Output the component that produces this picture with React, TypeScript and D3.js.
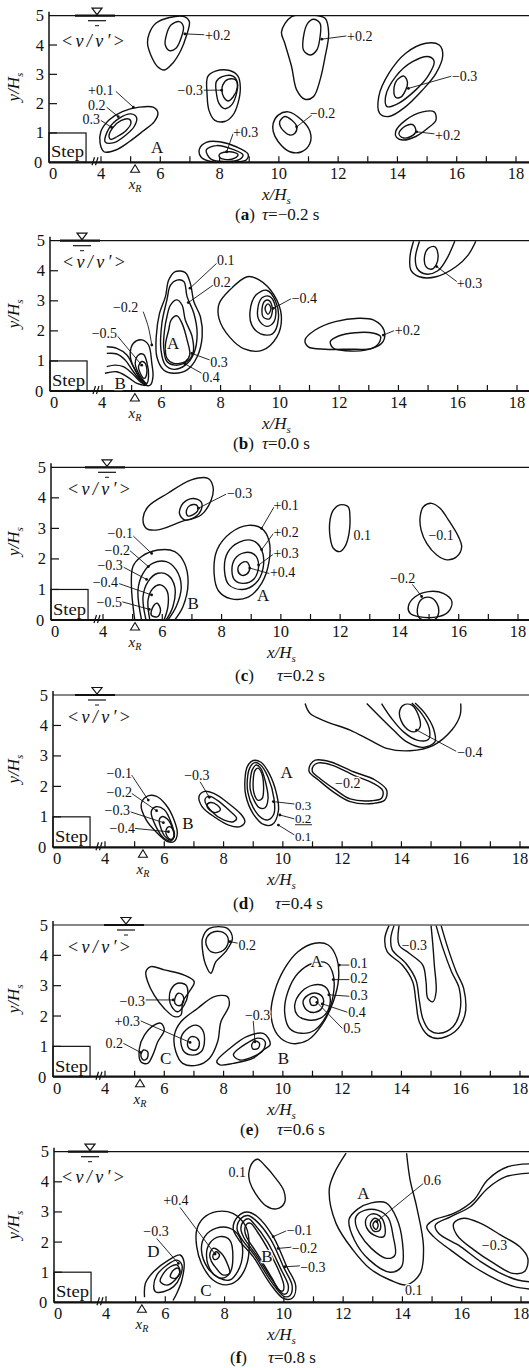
import React from 'react';
import * as d3 from 'd3';

type Pt = [number, number];
type Contour = { p: Pt[]; open?: boolean };
type Lab = { t: string; x: number; y: number; a?: 'start' | 'middle' | 'end'; big?: boolean; lead?: Pt[]; under?: boolean; small?: boolean };

// ---------- panel (a) tau = -0.2 s ----------
const contoursA: Contour[] = [
  { p: [[3.93,0.65],[3.99,1.05],[4.27,1.44],[4.72,1.73],[5.29,1.88],[5.76,1.88],[5.92,1.69],[5.80,1.39],[5.40,1.05],[4.95,0.70],[4.50,0.42],[4.10,0.36]] },
  { p: [[4.14,0.70],[4.27,1.16],[4.61,1.50],[5.01,1.65],[5.20,1.53],[5.12,1.22],[4.84,0.93],[4.44,0.67]] },
  { p: [[4.27,0.88],[4.38,1.16],[4.67,1.42],[4.95,1.47],[5.01,1.33],[4.84,1.08],[4.55,0.88],[4.33,0.78]] },
  { p: [[5.63,4.40],[5.85,4.74],[6.31,4.94],[6.81,4.97],[6.98,4.80],[6.87,4.28],[6.70,3.83],[6.42,3.38],[6.14,3.15],[5.91,3.26],[5.68,3.66],[5.57,4.06]] },
  { p: [[6.19,4.28],[6.36,4.68],[6.64,4.80],[6.78,4.63],[6.70,4.23],[6.53,3.89],[6.31,3.81],[6.17,4.0]] },
  { p: [[7.60,2.92],[7.86,3.11],[8.34,3.13],[8.62,2.94],[8.70,2.56],[8.62,2.01],[8.45,1.61],[8.17,1.39],[7.83,1.44],[7.64,1.78],[7.58,2.30]] },
  { p: [[7.89,2.75],[8.09,2.92],[8.45,2.94],[8.60,2.72],[8.56,2.30],[8.40,1.95],[8.17,1.83],[7.98,2.01],[7.89,2.38]] },
  { p: [[8.11,2.64],[8.28,2.83],[8.54,2.81],[8.60,2.56],[8.45,2.22],[8.28,2.09],[8.14,2.22],[8.08,2.44]] },
  { p: [[7.32,0.45],[7.55,0.68],[8.0,0.70],[8.56,0.53],[8.96,0.28],[8.90,0.08],[8.45,0.01],[7.77,0.01],[7.38,0.17]] },
  { p: [[7.55,0.42],[7.89,0.57],[8.45,0.44],[8.79,0.25],[8.68,0.10],[8.23,0.03],[7.72,0.10]] },
  { p: [[8.0,0.28],[8.34,0.36],[8.62,0.27],[8.51,0.14],[8.17,0.10],[8.0,0.17]] },
  { p: [[10.09,4.45],[10.43,4.97],[11.11,5.03],[11.56,4.91],[11.68,4.40],[11.56,3.60],[11.39,2.81],[11.17,2.24],[10.88,2.15],[10.60,2.47],[10.43,3.26],[10.20,4.06]] },
  { p: [[10.83,4.28],[10.97,4.74],[11.17,4.88],[11.39,4.74],[11.39,4.28],[11.28,3.83],[11.05,3.66],[10.83,3.83]] },
  { p: [[9.81,1.33],[9.98,1.61],[10.32,1.72],[10.77,1.44],[11.05,1.05],[11.05,0.65],[10.77,0.36],[10.37,0.36],[9.98,0.70],[9.81,1.05]] },
  { p: [[10.03,1.39],[10.20,1.56],[10.43,1.44],[10.60,1.22],[10.54,0.99],[10.37,0.93],[10.18,1.05],[10.05,1.22]] },
  { p: [[13.37,2.24],[13.71,3.03],[14.28,3.72],[14.96,4.06],[15.41,4.0],[15.53,3.66],[15.30,3.03],[14.85,2.47],[14.28,1.90],[13.71,1.56],[13.40,1.67]] },
  { p: [[13.60,2.24],[13.94,2.92],[14.51,3.43],[15.07,3.60],[15.24,3.43],[15.02,2.92],[14.62,2.47],[14.05,2.02],[13.65,1.90]] },
  { p: [[13.88,2.47],[13.99,2.81],[14.22,2.94],[14.34,2.72],[14.28,2.47],[14.11,2.22],[13.94,2.22]] },
  { p: [[13.94,1.05],[14.28,1.44],[14.85,1.72],[15.24,1.72],[15.30,1.44],[15.02,1.16],[14.62,0.88],[14.17,0.76],[13.97,0.85]] },
  { p: [[14.05,0.99],[14.28,1.24],[14.53,1.28],[14.62,1.05],[14.45,0.88],[14.17,0.84]] },
];
const labelsA: Lab[] = [
  { t: '+0.1', x: 4.42, y: 2.30, a: 'end', lead: [[5.09,1.88],[4.5,2.42]] },
  { t: '0.2', x: 4.15, y: 1.78, a: 'end', lead: [[4.58,1.56],[4.19,1.88]] },
  { t: '0.3', x: 3.92, y: 1.31, a: 'end', lead: [[4.36,1.19],[3.95,1.44]] },
  { t: 'A', x: 5.89, y: 0.32, a: 'middle', big: true },
  { t: '+0.2', x: 7.51, y: 4.17, lead: [[6.83,4.38],[7.49,4.35]] },
  { t: '−0.3', x: 7.44, y: 2.30, a: 'end', lead: [[8.07,2.46],[7.46,2.46]] },
  { t: '+0.3', x: 8.45, y: 0.86, lead: [[8.24,0.36],[8.46,0.99]] },
  { t: '+0.2', x: 12.30, y: 4.14, lead: [[11.45,4.2],[12.29,4.31]] },
  { t: '−0.2', x: 11.05, y: 1.51, lead: [[10.60,1.21],[11.11,1.61]] },
  { t: '−0.3', x: 15.84, y: 2.77, lead: [[14.37,2.52],[15.83,2.94]] },
  { t: '+0.2', x: 15.27, y: 0.76, lead: [[14.65,1.04],[15.25,0.97]] },
];

// ---------- panel (b) tau = 0.0 s ----------
const contoursB: Contour[] = [
  { p: [[4.95,1.25],[5.06,1.59],[5.34,1.70],[5.57,1.53],[5.68,0.92],[5.72,0.48],[5.63,0.20],[5.46,0.20],[5.18,0.59],[5.01,0.92]] },
  { p: [[5.12,0.92],[5.23,1.20],[5.40,1.22],[5.51,0.97],[5.57,0.48],[5.51,0.25],[5.34,0.42],[5.18,0.70]] },
  { p: [[5.23,0.81],[5.34,0.98],[5.46,0.92],[5.51,0.59],[5.42,0.42],[5.29,0.59]] },
  { p: [[4.16,1.47],[4.50,1.42],[4.84,1.20],[5.06,0.81],[5.29,0.42],[5.51,0.23]], open: true },
  { p: [[4.16,1.25],[4.50,1.23],[4.78,1.03],[5.06,0.64],[5.34,0.31],[5.51,0.20]], open: true },
  { p: [[4.16,0.81],[4.44,0.86],[4.72,0.81],[5.01,0.59],[5.29,0.31],[5.49,0.19]], open: true },
  { p: [[4.10,0.59],[4.50,0.64],[4.84,0.48],[5.18,0.25],[5.46,0.18]], open: true },
  { p: [[6.14,3.14],[6.25,3.69],[6.47,3.97],[6.81,3.94],[6.98,3.58],[7.10,2.97],[7.32,2.47],[7.38,1.81],[7.21,1.14],[6.87,0.70],[6.42,0.59],[6.08,0.70],[5.85,1.14],[5.83,1.81],[5.94,2.58]] },
  { p: [[6.19,3.03],[6.31,3.52],[6.53,3.69],[6.76,3.64],[6.87,3.14],[7.10,2.58],[7.21,1.92],[7.10,1.25],[6.81,0.86],[6.42,0.72],[6.14,0.86],[5.99,1.36],[6.02,2.25]] },
  { p: [[6.19,2.47],[6.31,2.86],[6.53,3.03],[6.70,2.86],[6.81,2.36],[7.04,1.81],[7.07,1.25],[6.87,0.98],[6.47,0.86],[6.19,0.98],[6.08,1.47],[6.11,2.03]] },
  { p: [[6.25,2.03],[6.33,2.36],[6.53,2.50],[6.70,2.25],[6.87,1.70],[6.96,1.20],[6.81,0.98],[6.42,0.92],[6.19,1.09],[6.14,1.53]] },
  { p: [[7.95,2.9],[8.3,3.35],[8.9,3.8],[9.3,3.7],[9.8,3.2],[10.05,2.5],[9.9,1.8],[9.4,1.35],[8.8,1.4],[8.3,1.8],[7.95,2.4]] },
  { p: [[9.0,2.7],[9.2,3.2],[9.55,3.35],[9.85,3.0],[9.95,2.4],[9.75,1.9],[9.35,1.9],[9.05,2.2]] },
  { p: [[9.25,2.7],[9.4,3.1],[9.65,3.15],[9.85,2.8],[9.8,2.3],[9.55,2.15],[9.3,2.35]] },
  { p: [[9.4,2.75],[9.5,3.0],[9.65,3.0],[9.75,2.7],[9.65,2.4],[9.45,2.45]] },
  { p: [[9.5,2.75],[9.6,2.9],[9.7,2.75],[9.6,2.55]] },
  { p: [[10.85,1.70],[11.19,2.03],[11.87,2.31],[12.66,2.42],[13.17,2.36],[13.51,2.03],[13.48,1.64],[13.12,1.42],[12.32,1.39],[11.53,1.39],[10.96,1.47]] },
  { p: [[11.70,1.64],[11.98,1.83],[12.55,1.94],[13.17,1.92],[13.40,1.81],[13.29,1.53],[12.89,1.36],[12.21,1.34],[11.81,1.42]] },
  { p: [[14.51,4.98],[14.39,4.47],[14.42,4.02],[14.71,3.80],[15.27,3.80],[15.95,4.14],[16.35,4.52],[16.61,4.98]], open: true },
  { p: [[14.71,4.98],[14.57,4.41],[14.65,4.05],[14.93,3.89],[15.33,4.0],[15.61,4.36],[15.90,4.98]], open: true },
  { p: [[14.88,4.47],[15.0,4.74],[15.22,4.80],[15.33,4.58],[15.27,4.19],[15.10,4.05],[14.93,4.14]] },
];
const labelsB: Lab[] = [
  { t: '0.1', x: 7.88, y: 4.19, lead: [[6.97,3.42],[7.87,4.25]] },
  { t: '0.2', x: 7.75, y: 3.46, lead: [[6.91,2.94],[7.76,3.53]] },
  { t: '0.3', x: 7.65, y: 0.80, lead: [[7.03,1.25],[7.64,1.03]] },
  { t: '0.4', x: 7.38, y: 0.30, lead: [[6.80,0.90],[7.36,0.59]] },
  { t: 'A', x: 6.40, y: 1.40, a: 'middle', big: true },
  { t: '−0.2', x: 4.37, y: 2.63, lead: [[5.68,1.53],[5.56,2.14],[5.39,2.64]] },
  { t: '−0.5', x: 4.51, y: 1.76, a: 'end', lead: [[5.34,0.86],[4.52,1.83]] },
  { t: 'B', x: 4.61, y: 0.07, a: 'middle', big: true },
  { t: '−0.4', x: 10.40, y: 2.93, lead: [[9.78,2.75],[10.40,3.08]] },
  { t: '+0.2', x: 13.88, y: 1.86, lead: [[13.49,1.86],[13.86,2.01]] },
  { t: '+0.3', x: 15.97, y: 3.43, lead: [[15.29,4.14],[15.97,3.64]] },
];

// ---------- panel (c) tau = 0.2 s ----------
const contoursC: Contour[] = [
  { p: [[5.35,3.33],[5.52,3.71],[6.19,4.15],[6.98,4.59],[7.54,4.64],[7.71,4.37],[7.65,3.93],[7.31,3.44],[6.64,3.22],[5.85,2.95],[5.46,3.0]] },
  { p: [[6.58,3.49],[6.70,3.82],[7.03,3.98],[7.31,3.87],[7.31,3.60],[7.09,3.36],[6.75,3.28]] },
  { p: [[6.81,3.55],[6.92,3.74],[7.15,3.77],[7.20,3.60],[7.03,3.44],[6.86,3.41]] },
  { p: [[5.07,0],[4.96,1.09],[5.01,1.75],[5.29,2.07],[5.85,2.29],[6.42,2.24],[6.75,1.86],[6.87,1.20],[6.70,0.44],[6.42,0]], open: true },
  { p: [[5.30,0],[5.18,0.98],[5.35,1.53],[5.69,1.86],[6.13,1.91],[6.47,1.64],[6.64,1.09],[6.47,0.44],[6.19,0]], open: true },
  { p: [[5.45,0],[5.35,0.76],[5.52,1.26],[5.85,1.53],[6.19,1.47],[6.42,1.09],[6.36,0.44],[6.13,0]], open: true },
  { p: [[5.58,0],[5.52,0.66],[5.69,1.04],[5.94,1.15],[6.17,0.93],[6.19,0.44],[6.06,0]], open: true },
  { p: [[5.63,0.16],[5.69,0.44],[5.83,0.55],[5.94,0.33],[5.85,0.11]] },
  { p: [[7.75,1.5],[7.85,2.3],[8.3,2.85],[8.9,3.1],[9.35,3.0],[9.6,2.6],[9.6,1.9],[9.35,1.2],[8.9,0.75],[8.3,0.7],[7.9,0.95]] },
  { p: [[8.1,1.6],[8.2,2.2],[8.6,2.55],[9.05,2.6],[9.35,2.3],[9.4,1.7],[9.15,1.2],[8.7,1.0],[8.25,1.15]] },
  { p: [[8.35,1.6],[8.45,2.0],[8.75,2.2],[9.1,2.15],[9.25,1.8],[9.1,1.35],[8.75,1.2],[8.45,1.3]] },
  { p: [[8.55,1.65],[8.65,1.85],[8.85,1.9],[8.95,1.7],[8.85,1.5],[8.65,1.48]] },
  { p: [[11.66,3.28],[11.77,3.60],[11.99,3.77],[12.27,3.71],[12.33,3.38],[12.30,2.84],[12.16,2.40],[11.99,2.24],[11.77,2.35],[11.66,2.73]] },
  { p: [[14.70,3.38],[14.81,3.71],[15.09,3.82],[15.37,3.66],[15.65,3.28],[15.99,2.73],[16.10,2.40],[15.93,2.07],[15.60,1.97],[15.26,2.13],[14.92,2.51],[14.73,2.95]] },
  { p: [[14.30,0.44],[14.53,0.76],[14.98,0.93],[15.48,0.87],[15.77,0.60],[15.65,0.27],[15.32,0.11],[14.64,0.11],[14.36,0.22]] },
  { p: [[14.64,0.11],[14.62,0.44],[14.75,0.68],[15.03,0.74],[15.26,0.55],[15.32,0.22],[15.20,0.02],[14.75,0.02]] },
];
const labelsC: Lab[] = [
  { t: '−0.3', x: 8.18, y: 4.0, lead: [[7.22,3.66],[8.15,4.12]] },
  { t: '−0.1', x: 5.01, y: 2.69, a: 'end', lead: [[5.64,2.18],[5.02,2.75]] },
  { t: '−0.2', x: 4.91, y: 2.13, a: 'end', lead: [[5.53,1.75],[4.91,2.27]] },
  { t: '−0.3', x: 4.67, y: 1.64, a: 'end', lead: [[5.47,1.33],[4.69,1.73]] },
  { t: '−0.4', x: 4.51, y: 1.08, a: 'end', lead: [[5.64,0.82],[4.52,1.20]] },
  { t: '−0.5', x: 4.64, y: 0.43, a: 'end', lead: [[5.56,0.35],[4.63,0.60]] },
  { t: 'B', x: 7.04, y: 0.36, a: 'middle', big: true },
  { t: 'A', x: 9.40, y: 0.62, a: 'middle', big: true },
  { t: '+0.1', x: 9.75, y: 3.60, lead: [[9.35,3.0],[9.78,3.72]] },
  { t: '+0.2', x: 9.75, y: 2.72, lead: [[9.35,2.3],[9.76,2.85]] },
  { t: '+0.3', x: 9.75, y: 2.03, lead: [[9.25,1.8],[9.74,2.15]] },
  { t: '+0.4', x: 9.63, y: 1.41, lead: [[8.95,1.7],[9.62,1.52]] },
  { t: '0.1', x: 12.45, y: 2.62 },
  { t: '−0.1', x: 14.98, y: 2.62 },
  { t: '−0.2', x: 13.68, y: 1.21, lead: [[14.75,0.77],[14.41,1.20]] },
];

// ---------- panel (d) tau = 0.4 s ----------
const contoursD: Contour[] = [
  { p: [[5.22,1.39],[5.39,1.66],[5.72,1.68],[6.06,1.39],[6.33,0.90],[6.44,0.46],[6.33,0.19],[6.11,0.19],[5.72,0.51],[5.39,0.90]] },
  { p: [[5.56,1.17],[5.72,1.33],[6.0,1.23],[6.22,0.84],[6.33,0.40],[6.22,0.21],[6.0,0.29],[5.72,0.68]] },
  { p: [[5.83,0.90],[5.94,1.01],[6.11,0.92],[6.28,0.62],[6.33,0.35],[6.22,0.24],[6.03,0.35],[5.89,0.62]] },
  { p: [[6.06,0.57],[6.17,0.68],[6.30,0.57],[6.33,0.35],[6.22,0.26],[6.09,0.37]] },
  { p: [[7.17,1.66],[7.33,1.83],[7.67,1.77],[8.17,1.44],[8.61,1.06],[8.72,0.84],[8.56,0.68],[8.17,0.73],[7.67,1.01],[7.28,1.33]] },
  { p: [[7.37,1.55],[7.5,1.68],[7.78,1.55],[8.17,1.23],[8.44,0.95],[8.33,0.84],[8.0,0.90],[7.61,1.17]] },
  { p: [[7.44,1.39],[7.56,1.47],[7.78,1.39],[7.89,1.23],[7.72,1.14],[7.52,1.23]] },
  { p: [[8.72,2.2],[8.8,2.65],[9.0,2.85],[9.25,2.8],[9.55,2.4],[9.8,1.7],[9.85,1.2],[9.65,0.75],[9.35,0.75],[9.0,1.1],[8.75,1.7]] },
  { p: [[8.8,2.2],[8.88,2.6],[9.05,2.78],[9.25,2.7],[9.5,2.3],[9.7,1.6],[9.7,1.1],[9.5,0.9],[9.3,0.95],[9.0,1.3],[8.82,1.8]] },
  { p: [[8.9,2.2],[8.97,2.55],[9.1,2.7],[9.25,2.6],[9.4,2.2],[9.5,1.6],[9.4,1.3],[9.2,1.3],[9.0,1.6],[8.9,1.9]] },
  { p: [[9.0,2.2],[9.05,2.5],[9.15,2.6],[9.28,2.45],[9.35,2.0],[9.3,1.6],[9.15,1.55],[9.02,1.8]] },
  { p: [[10.92,2.70],[11.09,2.86],[11.59,2.81],[12.38,2.48],[13.11,2.21],[13.50,1.88],[13.44,1.55],[13.05,1.44],[12.27,1.50],[11.70,1.82],[11.20,2.21],[10.89,2.48]] },
  { p: [[11.03,2.67],[11.20,2.77],[11.65,2.70],[12.38,2.37],[13.05,2.10],[13.37,1.86],[13.33,1.61],[13.0,1.53],[12.27,1.59],[11.76,1.90],[11.25,2.26],[11.0,2.48]] },
  { p: [[10.75,4.72],[10.92,4.39],[11.48,4.12],[12.27,3.85],[12.94,3.52],[13.50,3.25],[14.29,3.17],[15.08,3.35],[15.70,3.85],[15.98,4.34],[16.0,4.72]], open: true },
  { p: [[12.83,4.72],[13.28,4.28],[13.73,3.85],[14.18,3.46],[14.74,3.28],[15.13,3.46],[15.08,3.90],[14.80,4.39],[14.46,4.74]], open: true },
  { p: [[13.33,4.72],[13.67,4.23],[14.07,3.79],[14.52,3.52],[14.91,3.54],[14.94,3.90],[14.68,4.39],[14.35,4.74]], open: true },
  { p: [[13.93,4.39],[14.07,4.67],[14.35,4.67],[14.57,4.34],[14.63,3.95],[14.43,3.79],[14.12,3.95]] },
];
const labelsD: Lab[] = [
  { t: '−0.1', x: 4.91, y: 2.27, a: 'end', lead: [[5.46,1.55],[4.90,2.37]] },
  { t: '−0.2', x: 4.91, y: 1.65, a: 'end', lead: [[5.74,1.20],[4.90,1.77]] },
  { t: '−0.3', x: 4.84, y: 1.06, a: 'end', lead: [[5.97,0.81],[4.84,1.17]] },
  { t: '−0.4', x: 5.01, y: 0.47, a: 'end', lead: [[6.14,0.51],[5.01,0.62]] },
  { t: 'B', x: 6.80, y: 0.60, a: 'middle', big: true },
  { t: '−0.3', x: 6.67, y: 2.22, lead: [[7.52,1.64],[7.21,2.15]] },
  { t: 'A', x: 10.13, y: 2.28, a: 'middle', big: true },
  { t: '0.3', x: 10.41, y: 1.24, small: true, lead: [[9.68,1.50],[10.40,1.42]] },
  { t: '0.2', x: 10.41, y: 0.79, small: true, lead: [[9.90,1.06],[10.40,0.93]], under: true },
  { t: '0.1', x: 10.41, y: 0.22, small: true, lead: [[9.85,0.73],[10.40,0.40]] },
  { t: '−0.2', x: 11.76, y: 1.95 },
  { t: '−0.4', x: 15.88, y: 2.96, lead: [[14.51,3.85],[15.85,3.15]] },
];

// ---------- panel (e) tau = 0.6 s ----------
const contoursE: Contour[] = [
  { p: [[7.29,4.56],[7.52,4.89],[8.13,4.89],[8.30,4.56],[8.07,4.12],[7.74,3.79],[7.57,3.41],[7.40,3.68],[7.29,4.18]] },
  { p: [[7.40,4.45],[7.57,4.73],[7.91,4.78],[8.13,4.62],[8.13,4.34],[7.91,4.12],[7.57,4.12]] },
  { p: [[5.38,3.46],[5.55,3.63],[6.0,3.52],[6.67,3.35],[7.01,3.13],[6.84,2.80],[6.62,2.47],[6.56,2.03],[6.34,1.98],[6.0,2.25],[5.66,2.69],[5.44,3.13]] },
  { p: [[6.22,2.86],[6.45,3.08],[6.73,3.02],[6.79,2.69],[6.67,2.36],[6.45,2.14],[6.25,2.31],[6.17,2.58]] },
  { p: [[6.36,2.58],[6.47,2.75],[6.62,2.69],[6.65,2.47],[6.51,2.34],[6.36,2.42]] },
  { p: [[6.34,1.37],[6.56,1.81],[7.12,2.25],[7.69,2.64],[8.13,2.64],[8.19,2.36],[7.91,1.81],[7.80,1.15],[7.52,0.60],[7.12,0.38],[6.62,0.44],[6.39,0.82]] },
  { p: [[6.56,1.26],[6.73,1.54],[7.07,1.70],[7.29,1.54],[7.35,1.10],[7.24,0.82],[6.96,0.71],[6.67,0.82]] },
  { p: [[6.79,1.15],[6.92,1.32],[7.12,1.26],[7.18,1.04],[7.07,0.88],[6.84,0.93]] },
  { p: [[5.16,0.93],[5.33,1.37],[5.66,1.70],[5.89,1.76],[6.0,1.54],[5.78,1.15],[5.61,0.71],[5.44,0.44],[5.21,0.49]] },
  { p: [[5.21,0.71],[5.30,0.88],[5.44,0.82],[5.42,0.60],[5.29,0.55]] },
  { p: [[7.77,0.50],[8.22,0.94],[8.78,1.32],[9.34,1.43],[9.51,1.27],[9.57,1.05],[9.34,0.88],[9.0,0.61],[8.33,0.44],[7.88,0.39]] },
  { p: [[8.33,0.72],[8.78,1.10],[9.17,1.27],[9.40,1.16],[9.34,0.88],[9.0,0.66],[8.55,0.55]] },
  { p: [[8.95,1.05],[9.06,1.18],[9.21,1.10],[9.17,0.94],[9.0,0.91]] },
  { p: [[9.60,2.03],[9.72,2.80],[10.06,3.57],[10.51,4.12],[11.08,4.40],[11.53,4.34],[11.82,3.90],[11.88,3.24],[11.70,2.47],[11.31,1.70],[10.85,1.21],[10.28,1.10],[9.83,1.37]] },
  { p: [[10.06,2.14],[10.17,2.80],[10.51,3.41],[11.02,3.74],[11.48,3.74],[11.70,3.35],[11.70,2.69],[11.48,2.03],[11.08,1.54],[10.63,1.43],[10.23,1.59]] },
  { p: [[10.40,2.36],[10.63,2.80],[11.02,3.02],[11.42,2.97],[11.59,2.64],[11.53,2.20],[11.25,1.92],[10.85,1.87],[10.49,2.03]] },
  { p: [[10.68,2.47],[10.85,2.69],[11.14,2.75],[11.36,2.58],[11.31,2.25],[11.08,2.12],[10.80,2.20]] },
  { p: [[10.91,2.53],[11.02,2.64],[11.17,2.56],[11.14,2.38],[10.97,2.36]] },
  { p: [[13.58,4.98],[13.44,4.56],[13.52,4.12],[14.03,3.68],[14.38,3.13],[14.49,2.47],[14.60,1.81],[14.89,1.37],[15.23,1.26],[15.80,1.48],[16.14,2.03],[16.10,2.91],[15.85,3.46],[15.57,4.23],[15.34,4.98]], open: true },
  { p: [[13.75,4.98],[13.64,4.56],[13.69,4.18],[14.15,3.74],[14.49,3.19],[14.60,2.53],[14.72,1.92],[14.94,1.54],[15.28,1.43],[15.74,1.65],[15.97,2.14],[15.95,2.91],[15.69,3.46],[15.40,4.23],[15.17,4.98]], open: true },
  { p: [[13.92,4.98],[13.92,4.34],[14.26,4.07],[14.72,3.68],[14.83,3.13],[14.89,2.58],[15.06,2.47],[15.17,2.80],[15.11,3.68],[15.06,4.34],[15.0,4.98]], open: true },
];
const labelsE: Lab[] = [
  { t: '0.2', x: 8.50, y: 4.18, lead: [[8.22,4.45],[8.48,4.40]] },
  { t: '−0.3', x: 5.35, y: 2.33, a: 'end', lead: [[6.30,2.53],[5.37,2.53]] },
  { t: '+0.3', x: 5.18, y: 1.67, a: 'end', lead: [[6.87,1.13],[5.20,1.84]] },
  { t: '0.2', x: 4.61, y: 0.95, a: 'end', lead: [[5.20,0.80],[4.62,1.10]] },
  { t: 'C', x: 6.05, y: 0.42, a: 'middle', big: true },
  { t: '−0.3', x: 8.72, y: 1.87, lead: [[9.06,1.15],[9.0,1.84]] },
  { t: 'B', x: 10.02, y: 0.42, a: 'middle', big: true },
  { t: 'A', x: 11.14, y: 3.62, a: 'middle', big: true },
  { t: '0.1', x: 12.27, y: 3.57, lead: [[11.90,3.68],[12.25,3.68]] },
  { t: '0.2', x: 12.27, y: 3.08, lead: [[11.70,3.20],[12.25,3.20]] },
  { t: '0.3', x: 12.27, y: 2.53, lead: [[11.55,2.70],[12.25,2.65]] },
  { t: '0.4', x: 12.21, y: 1.98, lead: [[11.33,2.40],[12.19,2.12]] },
  { t: '0.5', x: 12.04, y: 1.43, lead: [[11.15,2.45],[12.02,1.58]] },
  { t: '−0.3', x: 14.01, y: 4.18 },
];

// ---------- panel (f) tau = 0.8 s ----------
const contoursF: Contour[] = [
  { p: [[5.30,0.17],[5.33,0.63],[5.61,1.02],[6.11,1.40],[6.5,1.57],[6.63,1.35],[6.56,0.74],[6.39,0.30],[6.26,0.06]], open: true },
  { p: [[5.61,0.52],[5.72,0.91],[6.06,1.24],[6.39,1.40],[6.56,1.24],[6.5,0.85],[6.28,0.52],[5.94,0.35],[5.67,0.35]] },
  { p: [[5.83,0.69],[5.94,0.96],[6.17,1.18],[6.39,1.24],[6.5,1.02],[6.33,0.74],[6.06,0.57]] },
  { p: [[6.17,0.85],[6.28,1.07],[6.44,1.13],[6.48,0.96],[6.33,0.79]] },
  { p: [[7.06,2.40],[7.28,2.79],[7.72,3.01],[8.28,2.95],[8.72,2.51],[8.83,1.85],[8.72,1.18],[8.44,0.74],[8.06,0.58],[7.61,0.74],[7.22,1.29],[7.06,1.85]] },
  { p: [[7.22,1.74],[7.33,2.18],[7.72,2.46],[8.17,2.46],[8.5,2.18],[8.61,1.63],[8.44,1.02],[8.17,0.74],[7.83,0.80],[7.44,1.13]] },
  { p: [[7.39,1.57],[7.5,1.96],[7.83,2.18],[8.17,2.07],[8.28,1.52],[8.17,0.96],[7.89,0.80],[7.56,1.02]] },
  { p: [[7.5,1.57],[7.61,1.79],[7.89,1.63],[8.11,1.24],[8.17,0.96],[7.94,0.91],[7.72,1.13],[7.56,1.35]] },
  { p: [[7.61,1.57],[7.72,1.68],[7.83,1.57],[7.74,1.43],[7.63,1.44]] },
  { p: [[8.29,2.45],[8.45,2.85],[8.75,3.0],[9.1,2.85],[9.64,2.18],[10.1,1.18],[10.4,0.55],[10.3,0.15],[10.0,0.12],[9.53,0.63],[8.97,1.51],[8.5,2.05]] },
  { p: [[8.42,2.45],[8.55,2.78],[8.78,2.88],[9.05,2.72],[9.55,2.1],[10.0,1.15],[10.28,0.55],[10.2,0.22],[10.0,0.2],[9.58,0.68],[9.02,1.55],[8.58,2.1]] },
  { p: [[8.55,2.45],[8.65,2.7],[8.82,2.77],[9.0,2.6],[9.45,2.0],[9.9,1.1],[10.15,0.55],[10.1,0.3],[9.97,0.28],[9.62,0.72],[9.06,1.58],[8.65,2.15]] },
  { p: [[8.68,2.4],[8.75,2.6],[8.88,2.62],[9.1,2.35],[9.5,1.7],[9.85,1.0],[10.0,0.55],[9.97,0.38],[9.85,0.4],[9.6,0.8],[9.1,1.62],[8.75,2.15]] },
  { p: [[8.82,4.3],[8.95,4.65],[9.12,4.75],[9.35,4.55],[9.7,4.15],[10.0,3.7],[10.02,3.3],[9.75,3.1],[9.4,3.2],[9.05,3.6],[8.85,4.0]] },
  { p: [[12.1,4.95],[11.70,4.28],[11.53,3.73],[11.76,2.62],[12.33,1.74],[12.89,1.13],[13.58,0.74],[14.14,0.58],[14.60,0.96],[14.71,1.85],[14.48,3.17],[14.26,4.06],[14.14,4.95]], open: true },
  { p: [[12.2,2.75],[12.5,3.1],[12.95,3.3],[13.45,3.3],[13.8,2.8],[14.0,2.0],[13.97,1.18],[13.58,1.0],[12.89,1.40],[12.38,2.07]] },
  { p: [[12.44,2.85],[12.72,3.05],[13.18,3.05],[13.52,2.80],[13.69,2.18],[13.75,1.57],[13.46,1.46],[12.95,1.79],[12.55,2.29],[12.42,2.6]] },
  { p: [[12.76,2.73],[12.95,2.93],[13.24,2.86],[13.41,2.51],[13.37,2.18],[13.12,2.20],[12.84,2.40]] },
  { p: [[12.92,2.62],[13.06,2.79],[13.24,2.68],[13.24,2.40],[13.06,2.35],[12.95,2.46]] },
  { p: [[13.01,2.60],[13.10,2.70],[13.18,2.57],[13.12,2.42],[13.03,2.49]] },
  { p: [[18.5,4.6],[17.55,4.50],[16.87,4.06],[16.41,3.40],[15.73,2.95],[15.05,2.73],[14.82,2.51],[15.05,2.18],[15.62,1.74],[16.41,1.18],[17.21,0.74],[17.78,0.52],[18.5,0.42]], open: true },
  { p: [[18.5,4.3],[17.49,4.17],[16.87,3.78],[16.30,3.18],[15.62,2.84],[15.11,2.56],[15.22,2.29],[15.96,1.85],[16.64,1.35],[17.32,0.96],[17.89,0.74],[18.5,0.66]], open: true },
  { p: [[15.73,2.62],[16.07,2.79],[16.64,2.62],[17.32,2.23],[17.95,1.85],[18.23,1.46],[18.12,1.02],[17.72,0.96],[17.09,1.29],[16.41,1.74],[15.84,2.23]] },
];
const labelsF: Lab[] = [
  { t: '0.1', x: 8.13, y: 4.16 },
  { t: '+0.4', x: 5.93, y: 3.23, lead: [[7.68,1.60],[6.50,3.15]] },
  { t: '−0.3', x: 5.26, y: 2.20, lead: [[6.44,1.29],[5.71,2.12]] },
  { t: 'D', x: 5.60, y: 1.50, a: 'middle', big: true },
  { t: 'C', x: 7.37, y: 0.21, a: 'middle', big: true },
  { t: 'B', x: 9.43, y: 1.34, a: 'middle', big: true },
  { t: '−0.1', x: 10.10, y: 2.23, lead: [[9.64,2.18],[10.10,2.38]] },
  { t: '−0.2', x: 10.27, y: 1.63, lead: [[9.81,1.79],[10.27,1.83]] },
  { t: '−0.3', x: 10.55, y: 1.02, lead: [[10.04,1.18],[10.55,1.21]] },
  { t: '0.6', x: 14.71, y: 3.89, lead: [[13.13,2.68],[14.71,3.95]] },
  { t: 'A', x: 12.68, y: 3.43, a: 'middle', big: true },
  { t: '0.1', x: 14.09, y: 0.24 },
  { t: '−0.3', x: 16.68, y: 1.74 },
];

// ---------- panel meta ----------
const PANEL_IDS = ['a', 'b', 'c', 'd', 'e', 'f'];
const TAU_VALUES = ['−0.2', '0.0', '0.2', '0.4', '0.6', '0.8'];
const X_R_VALUES = [5.15, 5.11, 5.08, 5.28, 5.18, 5.21];
const X_TICKS = [4, 5, 6, 7, 8, 9, 10, 11, 12, 13, 14, 15, 16, 17, 18];
const X_TICK_LABELS = [4, 6, 8, 10, 12, 14, 16, 18];
const Y_TICK_LABELS = [1, 2, 3, 4, 5];
const STEP_LENGTH = 2.85;
const CONTOURS = [contoursA, contoursB, contoursC, contoursD, contoursE, contoursF];
const LABELS = [labelsA, labelsB, labelsC, labelsD, labelsE, labelsF];

// layout (pixels)
const W = 529, H = 1368;
const Y5 = [15.7, 240.7, 467.3, 695, 925, 1151.7];
const Y0 = [162.3, 391, 620, 847.3, 1076.7, 1302.3];
const SHIFT = [0, 1, 2, 4, 4, 5];
const WATER_X = [97, 82, 107, 97, 126, 90];
const VV_X = [62, 63, 68, 68, 68, 62];
const VV_DY = [31, 27, 28, 28, 28, 31];
const CAP_DY = [58, 58, 61, 62, 58, 61];
const CAP_LX = [235, 233, 235, 233, 240, 230];
const CAP_TX = [262, 262, 277, 275, 277, 268];
const XHS_X = [262, 262, 267, 267, 267, 267];

const SERIF = '"Liberation Serif", "Times New Roman", "DejaVu Serif", serif';
const INK = '#111';

function Panel({ i }: { i: number }) {
  const s = SHIFT[i];
  const y5 = Y5[i], y0 = Y0[i];
  const sx = d3.scaleLinear().domain([0, 4, 18]).range([49 + s, 101 + s, 516 + s]);
  const sy = d3.scaleLinear().domain([0, 5]).range([y0, y5]);
  const closed = d3.line<Pt>().x(d => sx(d[0])).y(d => sy(d[1])).curve(d3.curveCatmullRomClosed.alpha(0.5));
  const open = d3.line<Pt>().x(d => sx(d[0])).y(d => sy(d[1])).curve(d3.curveCatmullRom.alpha(0.5));
  const straight = d3.line<Pt>().x(d => sx(d[0])).y(d => sy(d[1]));
  const x0 = sx(0);
  const clipId = `clip-${PANEL_IDS[i]}`;
  const wx = WATER_X[i];
  const brk = 95 + s;
  const xr = sx(X_R_VALUES[i]);
  return (
    <g>
      <defs>
        <clipPath id={clipId}>
          <rect x={x0} y={y5} width={W - x0} height={y0 - y5} />
        </clipPath>
      </defs>
      {/* contours */}
      <g clipPath={`url(#${clipId})`} fill="none" stroke={INK} strokeWidth={1.4}>
        {CONTOURS[i].map((c, k) => (
          <path key={k} d={(c.open ? open(c.p) : closed(c.p)) || ''} />
        ))}
      </g>
      {/* frame */}
      <line x1={x0} x2={W} y1={y5} y2={y5} stroke={INK} strokeWidth={1.2} />
      <line x1={wx - 22} x2={wx + 18} y1={y5} y2={y5} stroke={INK} strokeWidth={2.2} />
      <path d={`M${wx - 5},${y5 - 7.5} L${wx + 5},${y5 - 7.5} L${wx},${y5 - 1} Z`} fill="none" stroke={INK} strokeWidth={1.2} />
      <line x1={wx - 9} x2={wx + 9} y1={y5 + 5} y2={y5 + 5} stroke={INK} strokeWidth={1.2} />
      <line x1={wx - 2} x2={wx + 2} y1={y5 + 10} y2={y5 + 10} stroke={INK} strokeWidth={1} />
      <line x1={x0} x2={x0} y1={y5 - 4} y2={y0} stroke={INK} strokeWidth={1.5} />
      <line x1={x0} x2={W} y1={y0} y2={y0} stroke={INK} strokeWidth={2.2} />
      {Y_TICK_LABELS.filter(v => v < 5).map(v => (
        <line key={v} x1={x0} x2={x0 + 8} y1={sy(v)} y2={sy(v)} stroke={INK} strokeWidth={1.2} />
      ))}
      {X_TICKS.map(v => (
        <line key={v} x1={sx(v)} x2={sx(v)} y1={y0} y2={y0 - 6} stroke={INK} strokeWidth={1.2} />
      ))}
      <path d={`M${brk - 3},${y0 + 3} L${brk - 0.5},${y0 - 5} M${brk + 0.5},${y0 + 3} L${brk + 3},${y0 - 5}`} stroke={INK} strokeWidth={1.2} fill="none" />
      {/* step */}
      <rect x={x0} y={sy(1)} width={sx(STEP_LENGTH) - x0} height={y0 - sy(1)} fill="none" stroke={INK} strokeWidth={1.2} />
      <text x={x0 + 2} y={y0 - 5} fontSize={16} fontFamily={SERIF} fill={INK} textLength={33} lengthAdjust="spacingAndGlyphs">Step</text>
      {/* <v/v'> */}
      <text x={VV_X[i]} y={y5 + VV_DY[i]} fontSize={18} fontFamily={SERIF} fill={INK} textLength={62} lengthAdjust="spacing">
        <tspan>{'<'}</tspan>
        <tspan fontStyle="italic">{'v/v′'}</tspan>
        <tspan>{'>'}</tspan>
      </text>
      {/* tick labels */}
      <g fontSize={16.5} fontFamily={SERIF} fill={INK}>
        {Y_TICK_LABELS.map(v => (
          <text key={v} x={x0 - 5} y={sy(v) + 5.5} textAnchor="end">{v}</text>
        ))}
        <text x={x0 - 11} y={y0 + 6} textAnchor="middle">0</text>
        <text x={x0 + 4} y={y0 + 17} textAnchor="middle">0</text>
        {X_TICK_LABELS.map(v => (
          <text key={v} x={sx(v)} y={y0 + 17} textAnchor="middle">{v}</text>
        ))}
      </g>
      {/* x_R */}
      <path d={`M${xr - 4.5},${y0 + 10} L${xr + 4.5},${y0 + 10} L${xr},${y0 + 2.5} Z`} fill="none" stroke={INK} strokeWidth={1.1} />
      <text x={xr} y={y0 + 27} fontSize={15} fontFamily={SERIF} fill={INK} textAnchor="middle">
        <tspan fontStyle="italic">x</tspan>
        <tspan fontSize={10} dy={3} fontStyle="italic">R</tspan>
      </text>
      {/* axis titles */}
      <text x={XHS_X[i]} y={y0 + 38} fontSize={17} fontFamily={SERIF} fill={INK}>
        <tspan fontStyle="italic">x/H</tspan>
        <tspan fontSize={11} dy={4} fontStyle="italic">s</tspan>
      </text>
      <text transform={`translate(19,${(y5 + y0) / 2 - 2}) rotate(-90)`} fontSize={17} fontFamily={SERIF} fill={INK} textAnchor="middle">
        <tspan fontStyle="italic">y/H</tspan>
        <tspan fontSize={11} dy={4} fontStyle="italic">s</tspan>
      </text>
      {/* caption */}
      <text x={CAP_LX[i]} y={y0 + CAP_DY[i]} fontSize={17} fontFamily={SERIF} fill={INK}>
        (<tspan fontWeight="bold">{PANEL_IDS[i]}</tspan>)
      </text>
      <text x={CAP_TX[i]} y={y0 + CAP_DY[i]} fontSize={17} fontFamily={SERIF} fill={INK}>
        <tspan fontStyle="italic">τ</tspan>
        <tspan>{`=${TAU_VALUES[i]} s`}</tspan>
      </text>
      {/* contour labels */}
      {LABELS[i].map((l, k) => (
        <g key={k}>
          {l.lead && (
            <>
              <path d={(l.lead.length > 2 ? open(l.lead) : straight(l.lead)) || ''}
                fill="none" stroke={INK} strokeWidth={0.9} />
              <circle cx={sx(l.lead[0][0])} cy={sy(l.lead[0][1])} r={1.4} fill={INK} />
            </>
          )}
          <text x={sx(l.x)} y={sy(l.y)} textAnchor={l.a || 'start'} fontSize={l.big ? 17 : l.small ? 13 : 14}
            fontFamily={SERIF} fill={INK} stroke="white" strokeWidth={2.5} paintOrder="stroke"
            strokeLinejoin="round">{l.t}</text>
          {l.under && (
            <line x1={sx(l.x)} x2={sx(l.x) + 17} y1={sy(l.y) + 1.5} y2={sy(l.y) + 1.5} stroke={INK} strokeWidth={0.9} />
          )}
        </g>
      ))}
    </g>
  );
}

export default function App() {
  return (
    <svg width={W} height={H} viewBox={`0 0 ${W} ${H}`} style={{ position: 'absolute', left: 0, top: 0, background: 'white' }}>
      <rect x={0} y={0} width={W} height={H} fill="white" />
      {PANEL_IDS.map((_, i) => <Panel key={i} i={i} />)}
    </svg>
  );
}
